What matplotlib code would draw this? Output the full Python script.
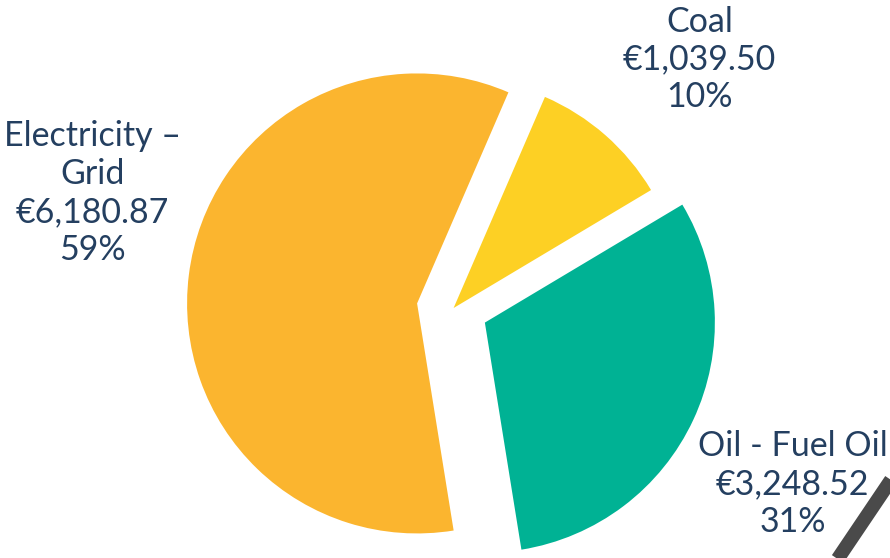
import matplotlib.pyplot as plt
from matplotlib.lines import Line2D

# data
categories = ["Electricity \u2013\nGrid", "Oil - Fuel Oil", "Coal"]
costs = [6180.87, 3248.52, 1039.50]
percents = ["59%", "31%", "10%"]
colors = ["#FBB52F", "#00B294", "#FDD024"]
explode = [0.16, 0.15, 0.0]

# where each label block sits (pie radius = 1)
label_pos = [(-1.57, 0.50), (1.475, -0.765), (1.07, 1.08)]

plt.rcParams['font.family'] = ['Lato', 'DejaVu Sans']
text_color = "#243F60"

fig = plt.figure(figsize=(8.9, 5.58), dpi=100)
ax = fig.add_axes([0, 0, 1, 1])

wedges, _ = ax.pie(costs, colors=colors, explode=explode, startangle=66.6,
                   counterclock=True, radius=1.0,
                   wedgeprops=dict(linewidth=0))

for name, cost, pct, (x, y) in zip(categories, costs, percents, label_pos):
    txt = "{0}\n\u20ac{1:,.2f}\n{2}".format(name, cost, pct)
    ax.text(x, y, txt, ha='center', va='center', fontsize=24.5,
            color=text_color, linespacing=1.22)

# 1 data unit = 230 px, pie centre at (453.6, 308) px from top-left
ax.set_xlim(-453.6 / 230, (890 - 453.6) / 230)
ax.set_ylim(-250 / 230, 308 / 230)
ax.set_aspect('auto')
ax.axis('off')

# dark slide decoration in the bottom right corner
fig.add_artist(Line2D([837 / 890, 895 / 890], [-2 / 558, 84 / 558],
                      transform=fig.transFigure, color="#4A4A4A",
                      linewidth=10, solid_capstyle='butt'))

fig.savefig("out.png", dpi=100)
